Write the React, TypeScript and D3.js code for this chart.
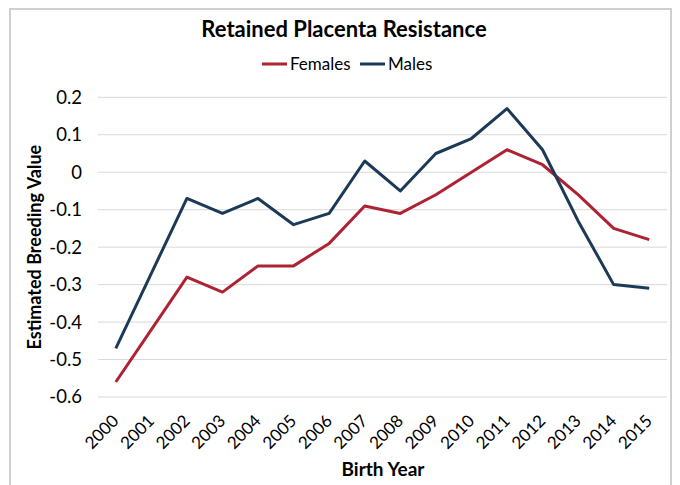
import React from "react";
import * as d3 from "d3";

const years = ["2000","2001","2002","2003","2004","2005","2006","2007","2008","2009","2010","2011","2012","2013","2014","2015"];
const females = [-0.56,-0.42,-0.28,-0.32,-0.25,-0.25,-0.19,-0.09,-0.11,-0.06,0.0,0.06,0.02,-0.06,-0.15,-0.18];
const males = [-0.47,-0.27,-0.07,-0.11,-0.07,-0.14,-0.11,0.03,-0.05,0.05,0.09,0.17,0.06,-0.13,-0.30,-0.31];
const yTicks = [0.2,0.1,0,-0.1,-0.2,-0.3,-0.4,-0.5,-0.6];
const tickLabels = ["0.2","0.1","0","-0.1","-0.2","-0.3","-0.4","-0.5","-0.6"];
const seriesNames = ["Females","Males"];
const colors = ["#ae2333","#1c3a58"];

const W = 680, H = 485;
const plot = { left: 98, right: 667, top: 97.3, bottom: 397 };
const font = "Lato, 'Open Sans', sans-serif";

export default function App() {
  const x = d3.scaleBand<string>().domain(years).range([plot.left, plot.right]);
  const y = d3.scaleLinear().domain([-0.6, 0.2]).range([plot.bottom, plot.top]);
  const line = d3.line<number>().x((_, i) => (x(years[i]) as number) + x.bandwidth() / 2).y(d => y(d));
  const series = [females, males];
  return (
    <svg width={W} height={H} style={{ position: "absolute", left: 0, top: 0 }} fontFamily={font}>
      <rect x={0} y={0} width={W} height={H} fill="#fff" />
      <rect x={10} y={9} width={661} height={490} fill="#fff" stroke="#d0d0d0" strokeWidth={2} />
      <text x={344} y={37} textAnchor="middle" fontSize={22} fontWeight="bold" fill="#000">Retained Placenta Resistance</text>
      {seriesNames.map((n, i) => {
        const lx = [262, 360][i];
        return (
          <g key={n}>
            <line x1={lx} x2={lx + 25} y1={64} y2={64} stroke={colors[i]} strokeWidth={3} />
            <text x={lx + 28} y={70} fontSize={17} fill="#000">{n}</text>
          </g>
        );
      })}
      {yTicks.map((t, i) => (
        <g key={t}>
          <line x1={plot.left} x2={plot.right} y1={y(t)} y2={y(t)} stroke="#d9d9d9" strokeWidth={1} />
          <text x={82} y={y(t)} dy="0.35em" textAnchor="end" fontSize={18.5} fill="#000">{tickLabels[i]}</text>
        </g>
      ))}
      {series.map((s, i) => (
        <path key={i} d={line(s) || ""} fill="none" stroke={colors[i]} strokeWidth={3} strokeLinejoin="round" />
      ))}
      {years.map(yr => {
        const cx = (x(yr) as number) + x.bandwidth() / 2;
        return (
          <text key={yr} transform={`translate(${cx + 4},${422}) rotate(-45)`} textAnchor="end" fontSize={17} fill="#000">{yr}</text>
        );
      })}
      <text x={383} y={476} textAnchor="middle" fontSize={19} fontWeight="bold" fill="#000">Birth Year</text>
      <text transform={`translate(41,${(plot.top + plot.bottom) / 2}) rotate(-90)`} textAnchor="middle" fontSize={18} fontWeight="bold" fill="#000">Estimated Breeding Value</text>
    </svg>
  );
}
